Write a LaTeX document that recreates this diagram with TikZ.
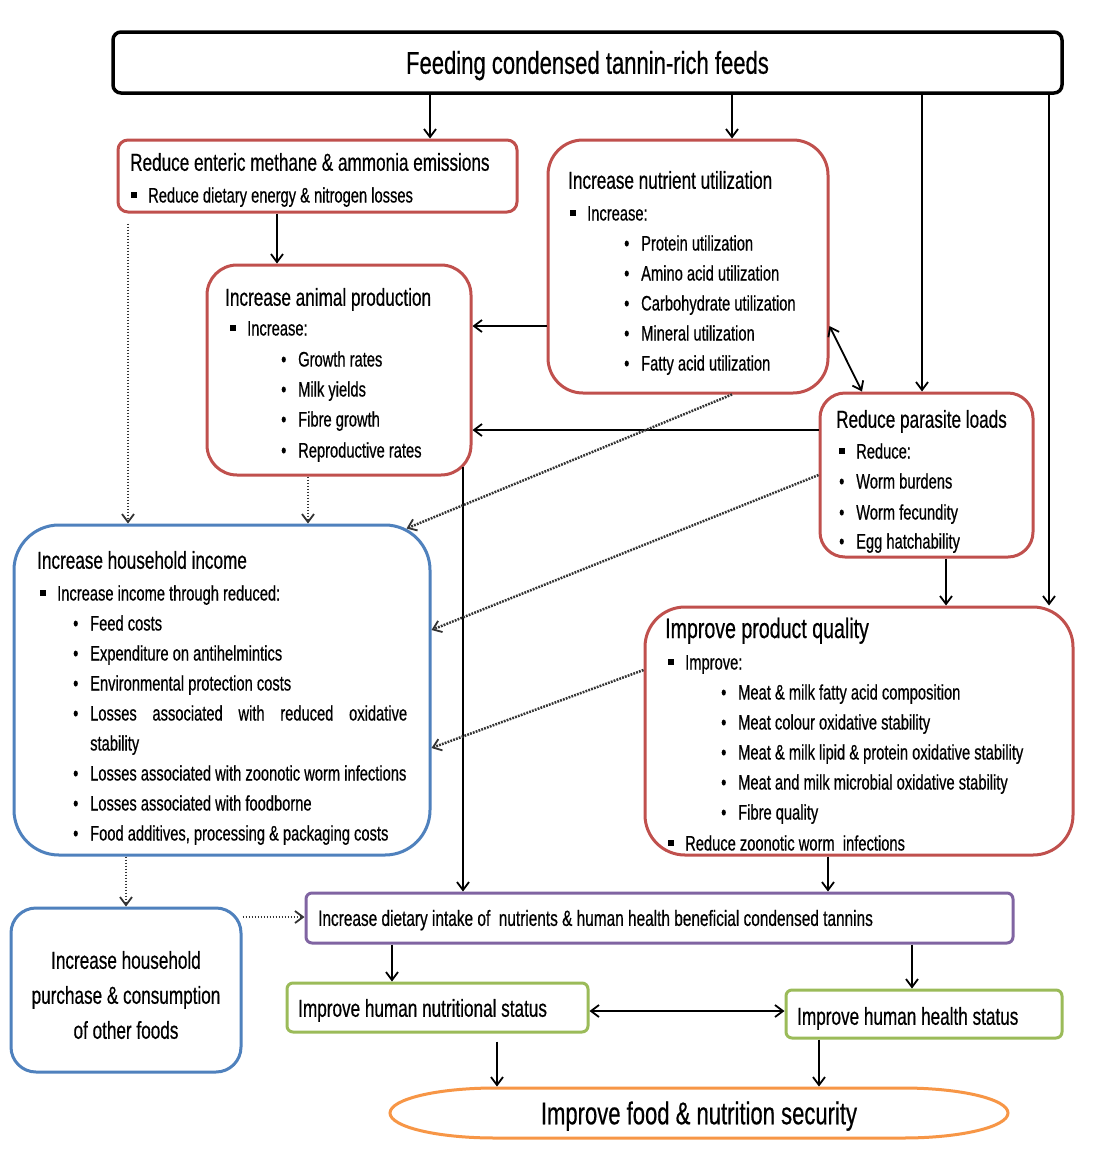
\documentclass[tikz,border=0pt]{standalone}
\usepackage{fontspec}
\setmainfont{Liberation Sans}[FakeStretch=0.7,FakeBold=0.5]
\usetikzlibrary{arrows.meta,shapes.geometric,calc}
\definecolor{cred}{RGB}{192,80,77}
\definecolor{cblue}{RGB}{79,129,189}
\definecolor{cpurple}{RGB}{128,100,162}
\definecolor{cgreen}{RGB}{155,187,89}
\definecolor{corange}{RGB}{247,150,70}
\newcommand\sqb{\makebox[17pt][l]{\rule[4.5pt]{6pt}{6pt}}}
\newcommand\rdb{\makebox[17pt][l]{\textbullet}}
\begin{document}
\begin{tikzpicture}[x=1pt,y=-1pt,
  framebox/.style={draw, line width=3pt, fill=white, inner sep=0pt},
  ttl/.style={anchor=west, inner sep=0pt, font=\fontsize{24.5}{29}\selectfont, text height=17.5pt, text depth=0pt},
  itm/.style={anchor=west, inner sep=0pt, font=\fontsize{21}{25}\selectfont, text height=15pt, text depth=0pt},
  arr/.style={line width=1.8pt, -{Straight Barb[length=8pt,width=12pt]}},
  dblarr/.style={line width=1.8pt, {Straight Barb[length=8pt,width=12pt]}-{Straight Barb[length=8pt,width=12pt]}},
  dotarr/.style={line width=2.5pt, draw=black!80, dash pattern=on 1.8pt off 1.2pt, -{Straight Barb[length=8pt,width=12pt,line width=1.8pt]}}
]
\useasboundingbox (0,0) rectangle (1109,1160);
\fill[white] (0,0) rectangle (1109,1160);

% column / row helper coordinates
\coordinate (cA) at (430,0);
\coordinate (cB) at (732,0);
\coordinate (cC) at (922,0);
\coordinate (cD) at (1049,0);
\coordinate (cE) at (277,0);
\coordinate (cF) at (128,0);
\coordinate (cG) at (308,0);
\coordinate (cH) at (463,0);
\coordinate (cI) at (946,0);
\coordinate (cJ) at (828,0);
\coordinate (cK) at (126,0);
\coordinate (cL) at (392,0);
\coordinate (cM) at (912,0);
\coordinate (cN) at (497,0);
\coordinate (cO) at (819,0);
\coordinate (cP) at (862,0);
\coordinate (rA) at (0,326);
\coordinate (rB) at (0,430);
\coordinate (rC) at (0,917);
\coordinate (rD) at (0,1011);
\coordinate (rE) at (0,630);
\coordinate (rF) at (0,748);
\coordinate (rG) at (0,670);

% boxes
\node[framebox, draw=black, line width=3.5pt, rounded corners=8pt, minimum width=949pt, minimum height=61pt,
  font=\fontsize{31.5}{36}\selectfont, text height=22.5pt, text depth=0pt] (top) at (587.5,62.5) {Feeding condensed tannin-rich feeds};
\node[framebox, draw=cred, rounded corners=10pt, minimum width=399pt, minimum height=72pt] (meth) at (317.5,176) {};
\node[framebox, draw=cred, rounded corners=35pt, minimum width=280pt, minimum height=253pt] (nut) at (688,266.5) {};
\node[framebox, draw=cred, rounded corners=30pt, minimum width=264pt, minimum height=210pt] (anim) at (339,370) {};
\node[framebox, draw=cred, rounded corners=25pt, minimum width=213pt, minimum height=164pt] (para) at (926.5,475) {};
\node[framebox, draw=cblue, rounded corners=45pt, minimum width=416pt, minimum height=330pt] (inc) at (222,690) {};
\node[framebox, draw=cred, rounded corners=40pt, minimum width=428pt, minimum height=248pt] (prod) at (859,731) {};
\node[framebox, draw=cblue, rounded corners=25pt, minimum width=230pt, minimum height=164pt] (purch) at (126,990) {};
\node[framebox, draw=cpurple, rounded corners=6pt, minimum width=707pt, minimum height=50pt] (diet) at (659.5,918) {};
\node[framebox, draw=cgreen, rounded corners=6pt, minimum width=301pt, minimum height=49pt] (nutr) at (437.5,1007.5) {};
\node[framebox, draw=cgreen, rounded corners=6pt, minimum width=276pt, minimum height=48pt] (hlth) at (924,1014) {};
% food security pill (outline drawn as a flattened ellipse)
\node[inner sep=0pt, outer sep=1.5pt, minimum width=618pt, minimum height=50pt,
  font=\fontsize{31.5}{36}\selectfont, text height=22.5pt, text depth=0pt] (ell) at (699,1113) {Improve food \& nutrition security};
\draw[draw=corange, line width=3pt]
  (495,1088) -- (903,1088)
  arc[start angle=-90, end angle=90, x radius=105, y radius=25]
  -- (495,1138)
  arc[start angle=90, end angle=270, x radius=105, y radius=25] -- cycle;

% texts: methane
\node[ttl] (meth-t) at (130,162) {Reduce enteric methane \& ammonia emissions};
\node[itm] (meth-s) at (131,195) {\sqb Reduce dietary energy \& nitrogen losses};
% nutrient
\node[ttl] (nut-t) at (568,180) {Increase nutrient utilization};
\node[itm] (nut-s) at (570,213) {\sqb Increase:};
\foreach \t [count=\i from 0] in {Protein utilization, Amino acid utilization, Carbohydrate utilization, Mineral utilization, Fatty acid utilization}
  \node[itm] (nut-\i) at (624,243+30*\i) {\rdb\t};
% animal
\node[ttl] (anim-t) at (225,297) {Increase animal production};
\node[itm] (anim-s) at (230,328) {\sqb Increase:};
\foreach \t/\yy [count=\i] in {Growth rates/359, Milk yields/389, Fibre growth/419, Reproductive rates/450}
  \node[itm] (anim-\i) at (281,\yy) {\rdb\t};
% parasite
\node[ttl] (para-t) at (836,419) {Reduce parasite loads};
\node[itm] (para-s) at (839,451) {\sqb Reduce:};
\foreach \t/\yy [count=\i] in {Worm burdens/481, Worm fecundity/512, Egg hatchability/541}
  \node[itm] (para-\i) at (839,\yy) {\rdb\t};
% income
\node[ttl] (inc-t) at (37,560) {Increase household income};
\node[itm] (inc-s) at (40,593) {\sqb Increase income through reduced:};
\node[itm] (inc-1) at (73,623) {\rdb Feed costs};
\node[itm] (inc-2) at (73,653) {\rdb Expenditure on antihelmintics};
\node[itm] (inc-3) at (73,683) {\rdb Environmental protection costs};
\node[itm] (inc-4) at (73,713) {\rdb\makebox[317pt][s]{Losses\hfill associated\hfill with\hfill reduced\hfill oxidative}};
\node[itm] (inc-4b) at (90,743) {stability};
\node[itm] (inc-5) at (73,773) {\rdb Losses associated with zoonotic worm infections};
\node[itm] (inc-6) at (73,803) {\rdb Losses associated with foodborne};
\node[itm] (inc-7) at (73,833) {\rdb Food additives, processing \& packaging costs};
% product quality
\node[ttl, font=\fontsize{28}{32}\selectfont, text height=20pt] (prod-t) at (665,628) {Improve product quality};
\node[itm] (prod-s) at (668,662) {\sqb Improve:};
\foreach \t [count=\i from 0] in {Meat \& milk fatty acid composition, Meat colour oxidative stability, Meat \& milk lipid \& protein oxidative stability, Meat and milk microbial oxidative stability, Fibre quality}
  \node[itm] (prod-\i) at (721,692+30*\i) {\rdb\t};
\node[itm] (prod-r) at (668,843) {\sqb Reduce zoonotic worm \ infections};
% purchase
\node[align=center, inner sep=0pt, font=\fontsize{24.5}{35}\selectfont] (purch-t) at (126,995) {Increase household\\purchase \& consumption\\of other foods};
% diet / nutrition / health
\node[itm, font=\fontsize{22}{26}\selectfont, text height=15.75pt] (diet-t) at (318,918) {Increase dietary intake of \ nutrients \& human health beneficial condensed tannins};
\node[ttl] (nutr-t) at (298,1008) {Improve human nutritional status};
\node[ttl] (hlth-t) at (797,1016) {Improve human health status};

% solid arrows
\draw[arr] (top.south -| cA) -- (meth.north -| cA);
\draw[arr] (top.south -| cB) -- (nut.north -| cB);
\draw[arr] (top.south -| cC) -- (para.north -| cC);
\draw[arr] (top.south -| cD) -- (prod.north -| cD);
\draw[arr] (meth.south -| cE) -- (anim.north -| cE);
\draw[arr] (nut.west |- rA) -- (anim.east |- rA);
\draw[arr] (para.west |- rB) -- (anim.east |- rB);
\draw[dblarr] (nut.east |- rA) -- (para.north -| cP);
\draw[arr] (para.south -| cI) -- (prod.north -| cI);
\draw[arr] ($(anim.south -| cH)+(0,-10)$) -- (diet.north -| cH);
\draw[arr] (prod.south -| cJ) -- (diet.north -| cJ);
\draw[arr] (diet.south -| cL) -- (nutr.north -| cL);
\draw[arr] (diet.south -| cM) -- (hlth.north -| cM);
\draw[dblarr] (nutr.east |- rD) -- (hlth.west |- rD);
\draw[arr] ($(nutr.south -| cN)+(0,8)$) -- (ell.north -| cN);
\draw[arr] (hlth.south -| cO) -- (ell.north -| cO);

% dotted arrows
\draw[dotarr] ($(meth.south -| cF)+(0,10)$) -- (inc.north -| cF);
\draw[dotarr] (anim.south -| cG) -- (inc.north -| cG);
\draw[dotarr] (nut.south -| cB) -- ($(inc.north east)+(-25,5)$);
\draw[dotarr] (para.west) -- (inc.east |- rE);
\draw[dotarr] (prod.west |- rG) -- (inc.east |- rF);
\draw[dotarr] (inc.south -| cK) -- (purch.north -| cK);
\draw[dotarr] (purch.east |- rC) -- (diet.west |- rC);
\end{tikzpicture}
\end{document}
